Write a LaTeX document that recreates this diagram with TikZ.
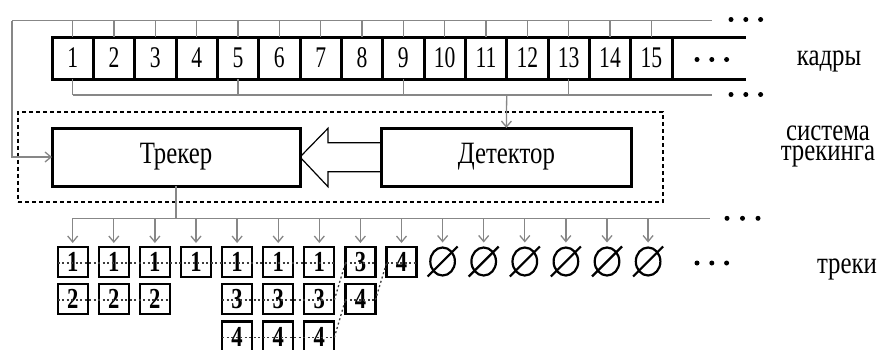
\documentclass[tikz,border=0pt]{standalone}
\usepackage{fontspec}
\setmainfont{Liberation Serif}
\newfontfamily\narrowfont[FakeStretch=0.72]{Liberation Serif}
\newfontfamily\boldnarrowfont[FakeStretch=0.78]{Liberation Serif}
\newfontfamily\labelfont[FakeStretch=0.8]{Liberation Serif}
\usetikzlibrary{arrows.meta}
\definecolor{lg}{RGB}{135,135,135}
\definecolor{dd}{RGB}{60,60,60}
\begin{document}
\begin{tikzpicture}[x=1pt,y=-1pt,
  gl/.style={draw=lg,line width=1.3pt},
  garrow/.style={gl,-{Straight Barb[length=6pt,width=10pt]}},
  cell/.style={draw,line width=3pt,outer sep=0pt,minimum width=41.33pt,minimum height=42pt,inner sep=0pt,font=\narrowfont\fontsize{30}{30}\selectfont},
  blockbox/.style={draw,line width=3pt,outer sep=0pt,inner sep=0pt,font=\labelfont\fontsize{31}{30}\selectfont},
  tbox/.style={draw,line width=2.2pt,outer sep=0pt,minimum size=30pt,inner sep=0pt,font=\boldnarrowfont\bfseries\fontsize{29}{30}\selectfont},
  nullbox/.style={minimum size=30pt,inner sep=0pt,outer sep=0pt},
  trackline/.style={draw=dd,line width=1.3pt,dash pattern=on 2pt off 2.5pt},
  sidelabel/.style={font=\labelfont\fontsize{31}{30}\selectfont,inner sep=0pt,anchor=base}
]
\useasboundingbox (0,0) rectangle (885,349);

% ---------- frame strip ----------
\foreach \i in {1,...,15}
  \node[cell] (c\i) at ({52+(\i-0.5)*41.333},58) {\i};
\coordinate (stripNE) at (746,37);
\coordinate (stripSE) at (746,79);
\draw[line width=3pt] (c15.north east) -- (stripNE);
\draw[line width=3pt] (c15.south east) -- (stripSE);
\foreach \k in {0,1,2} \fill ({697+\k*14.8},59.5) circle (2.5pt);

% top bus
\coordinate (topL) at (12,20.7);
\coordinate (topR) at (712,20.7);
\draw[gl] (topL) -- (topR);
\foreach \i in {1,...,15} \draw[gl] (c\i.north |- topL) -- (c\i.north);
\foreach \k in {0,1,2} \fill ({731+\k*14.8},19.5) circle (2.5pt);

% bottom bus
\coordinate (botR) at (712,95);
\draw[gl] (c1.south |- botR) -- (botR);
\foreach \i in {1,5,9,13} \draw[gl] (c\i.south) -- (c\i.south |- botR);
\foreach \k in {0,1,2} \fill ({731+\k*14.8},94.5) circle (2.5pt);

% ---------- tracking system ----------
\node[draw,line width=2.2pt,dash pattern=on 4pt off 3pt,minimum width=645pt,minimum height=90pt,inner sep=0pt] (sys) at (340.5,156.7) {};
\node[blockbox,minimum width=248pt,minimum height=58pt] (trk) at (176,157) {Трекер};
\node[blockbox,minimum width=249.3pt,minimum height=58pt] (det) at (506.35,157) {Детектор};

\coordinate (detIn) at (506.7,95);
\draw[garrow] (detIn) -- (det.north);
\draw[garrow] (topL) -- (topL |- trk.west) -- (trk.west);

% hollow arrow detector -> tracker
\draw[line width=1.2pt] (det.west |- 0,142.7) -- (328,142.7) -- (328,128.3) -- (trk.east)
  -- (328,186.7) -- (328,171.7) -- (det.west |- 0,171.7);

% ---------- output bus ----------
\coordinate (outBus) at (176,218.3);
\coordinate (outL) at (72.7,218.3);
\coordinate (outR) at (710,218.3);
\draw[gl] (trk.south) -- (outBus);
\draw[gl] (outL) -- (outR);
\foreach \k in {0,1,2} \fill ({727+\k*15.5},218.3) circle (2.5pt);

% ---------- tracks ----------
\foreach \i/\n in {1/1,2/1,3/1,4/1,5/1,6/1,7/1,8/3,9/4}
  \node[tbox] (t1-\i) at ({72.7+(\i-1)*41.1},262) {\n};
\foreach \i/\n in {1/2,2/2,3/2,5/3,6/3,7/3,8/4}
  \node[tbox] (t2-\i) at ({72.7+(\i-1)*41.1},299) {\n};
\foreach \i/\n in {5/4,6/4,7/4}
  \node[tbox] (t3-\i) at ({72.7+(\i-1)*41.1},336.5) {\n};
\foreach \i in {10,...,15}{
  \node[nullbox] (e\i) at ({72.7+(\i-1)*41.1},261.5) {};
  \draw[line width=2.2pt] (e\i.center) ellipse (12.3pt and 14pt);
  \draw[line width=2.2pt] ([xshift=-15pt,yshift=-15pt]e\i.center) -- ([xshift=15pt,yshift=15pt]e\i.center);
}
\foreach \i in {1,...,9}
  \draw[garrow] (outL -| t1-\i.north) -- ([yshift=4pt]t1-\i.north);
\foreach \i in {10,...,15}
  \draw[garrow] (outL -| e\i.north) -- ([yshift=4pt]e\i.north);

% track continuity lines
\draw[trackline] ([yshift=-1pt]t1-1.west) -- ([yshift=-1pt]t1-7.east);
\draw[trackline] ([yshift=-1pt]t1-8.west) -- ([yshift=-1pt]t1-8.east);
\draw[trackline] ([yshift=-1pt]t1-9.west) -- ([yshift=-1pt]t1-9.east);
\draw[trackline] ([yshift=-1pt]t2-1.west) -- ([yshift=-1pt]t2-3.east);
\draw[trackline] ([yshift=-1pt]t2-5.west) -- ([yshift=-1pt]t2-7.east);
\draw[trackline] ([yshift=-1pt]t2-8.west) -- ([yshift=-1pt]t2-8.east);
\draw[trackline] ([yshift=-1pt]t3-5.west) -- ([yshift=-1pt]t3-7.east);
\draw[trackline] ([yshift=-1pt]t2-7.east) -- ([yshift=-1pt]t1-8.west);
\draw[trackline] ([yshift=-1pt]t3-7.east) -- ([yshift=-1pt]t2-8.west);
\draw[trackline] ([yshift=-1pt]t2-8.east) -- ([yshift=-1pt]t1-9.west);
\foreach \k in {0,1,2} \fill ({697+\k*14.8},263) circle (2.5pt);

% ---------- side labels ----------
\node[sidelabel] (lblFrames) at (829,65) {кадры};
\node[sidelabel] (lblSys1) at (828,140) {система};
\node[sidelabel] (lblSys2) at (828,160) {трекинга};
\node[sidelabel] (lblTracks) at (847,273) {треки};
\end{tikzpicture}
\end{document}
